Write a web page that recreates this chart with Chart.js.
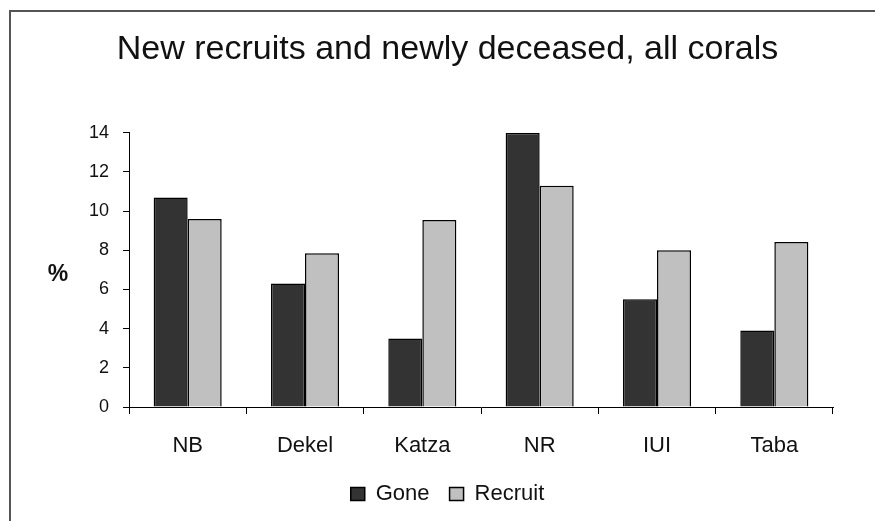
<!DOCTYPE html>
<html>
<head>
<meta charset="utf-8">
<title>New recruits and newly deceased, all corals</title>
<script src="https://cdn.jsdelivr.net/npm/chart.js@4/dist/chart.umd.min.js"></script>
<style>
  html, body { margin: 0; padding: 0; background: #fff; }
  #wrap { position: relative; width: 875px; height: 521px; overflow: hidden; }
  #frame {
    position: absolute; left: 9px; top: 10px;
    width: 900px; height: 600px;
    border: 2px solid #555; box-sizing: border-box;
  }
  #mychart { position: absolute; left: 0; top: 0; }
</style>
</head>
<body>
<div id="wrap">
  <div id="frame"></div>
  <canvas id="mychart" width="875" height="521"></canvas>
</div>
<script>
const sites = ["NB", "Dekel", "Katza", "NR", "IUI", "Taba"];
const gone = [10.7, 6.3, 3.5, 14.0, 5.5, 3.9];
const recruit = [9.6, 7.85, 9.55, 11.3, 8.0, 8.43];

const font = "'Liberation Sans', Arial, sans-serif";

// horizontal "%" beside the y axis
const percentLabel = {
  id: "percentLabel",
  afterDraw: (chart) => {
    const ctx = chart.ctx;
    const area = chart.chartArea;
    ctx.save();
    ctx.font = "bold 23px " + font;
    ctx.fillStyle = "#111";
    ctx.textAlign = "center";
    ctx.textBaseline = "middle";
    ctx.fillText("%", area.left - 71, (area.top + area.bottom) / 2 + 5);
    ctx.restore();
  },
};

const data = {
  labels: sites,
  datasets: [
    {
      label: "Gone",
      data: gone,
      backgroundColor: "#333333",
      borderColor: "#000",
      borderWidth: 1.5,
    },
    {
      label: "Recruit",
      data: recruit,
      backgroundColor: "#c0c0c0",
      borderColor: "#000",
      borderWidth: 1.5,
    },
  ],
};

const config = {
  type: "bar",
  data: data,
  options: {
    responsive: false,
    animation: false,
    layout: { padding: { left: 20, right: 0, top: 14, bottom: 6 } },
    datasets: {
      bar: { categoryPercentage: 0.58, barPercentage: 1.0 },
    },
    scales: {
      x: {
        grid: {
          offset: true,
          drawOnChartArea: false,
          drawTicks: true,
          tickLength: 7,
          color: "#000",
        },
        border: { display: true, color: "#000", width: 1 },
        ticks: { color: "#111", font: { family: font, size: 22 }, padding: 19 },
        afterFit: (scale) => {
          scale.height = 56;
        },
      },
      y: {
        min: 0,
        max: 14,
        ticks: {
          stepSize: 2,
          color: "#111",
          font: { family: font, size: 18 },
          padding: 14,
        },
        grid: {
          drawOnChartArea: false,
          drawTicks: true,
          tickLength: 6,
          color: "#000",
        },
        border: { display: true, color: "#000", width: 1 },
        afterFit: (scale) => {
          scale.width = 109;
        },
      },
      // empty axis on the right, only keeps space
      spacer: {
        position: "right",
        display: true,
        grid: { display: false },
        border: { display: false },
        ticks: { display: false },
        afterFit: (scale) => {
          scale.width = 42;
        },
      },
    },
    plugins: {
      title: {
        display: true,
        text: "New recruits and newly deceased, all corals",
        color: "#111",
        font: { family: font, size: 34, weight: "normal" },
        padding: { top: 15, bottom: 63 },
      },
      legend: {
        position: "bottom",
        labels: {
          color: "#111",
          font: { family: font, size: 22 },
          boxWidth: 14,
          boxHeight: 13,
          padding: 20,
        },
      },
      tooltip: { enabled: false },
    },
  },
  plugins: [percentLabel],
};

const mychart = new Chart(document.getElementById("mychart"), config);
</script>
</body>
</html>
